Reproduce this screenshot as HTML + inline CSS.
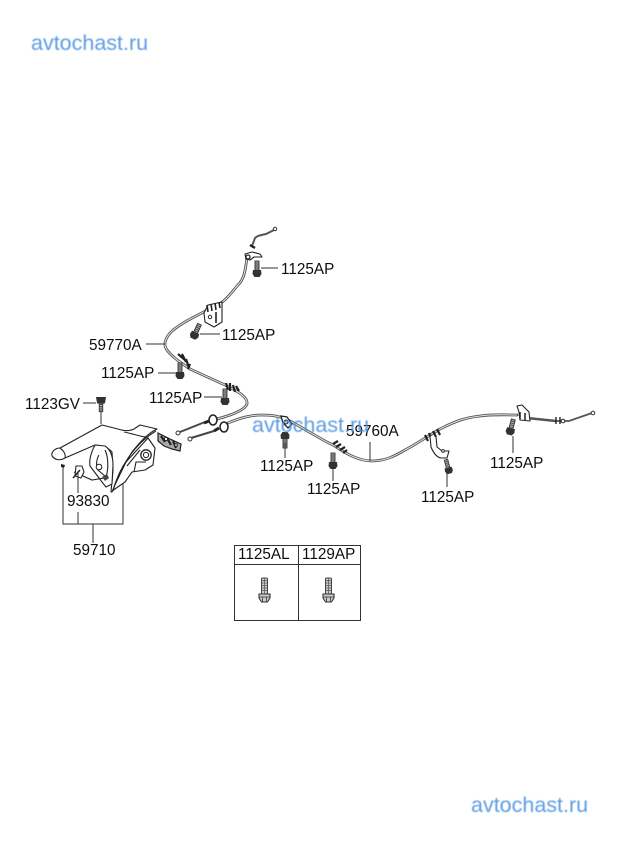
<!DOCTYPE html>
<html>
<head>
<meta charset="utf-8">
<style>
html,body{margin:0;padding:0;background:#fff;width:620px;height:848px;overflow:hidden}
svg{display:block;position:absolute;left:0;top:0}
text{font-family:"Liberation Sans",sans-serif}
.l{font-size:15.3px;fill:#111}
.w{font-size:21.5px;fill:#4f94e0;opacity:.92}
.ld{stroke:#333;stroke-width:1;fill:none}
.o{stroke:#222;stroke-width:1.1;fill:#fff;stroke-linejoin:round}
.o2{stroke:#222;stroke-width:1.1;fill:none}
.cb{fill:none;stroke:#555;stroke-width:2.8;stroke-linecap:round;stroke-linejoin:round}
.ci{fill:none;stroke:#e4e4e4;stroke-width:1}
</style>
</head>
<body>
<svg width="620" height="848" viewBox="0 0 620 848" xmlns="http://www.w3.org/2000/svg">
<defs>
<filter id="b" x="-5%" y="-20%" width="110%" height="140%"><feGaussianBlur stdDeviation=".45"/></filter>
<filter id="s" x="-2%" y="-2%" width="104%" height="104%"><feGaussianBlur stdDeviation=".3"/></filter>
<g id="bolt">
<rect x="-2" y="-13" width="4" height="10" fill="#aaa" stroke="#333" stroke-width=".9"/>
<path d="M-2,-11H2M-2,-9H2M-2,-7H2M-2,-5H2" stroke="#333" stroke-width=".7"/>
<path d="M-4,-4H4L4.5,0L2.5,3H-2.5L-4.5,0Z" fill="#333"/>
</g>
<g id="boltB">
<rect x="-3" y="-19" width="6" height="16" rx="1" fill="#ccc" stroke="#444" stroke-width="1"/>
<path d="M-3,-16.5H3M-3,-14H3M-3,-11.5H3M-3,-9H3M-3,-6.5H3M0,-19V-3" stroke="#555" stroke-width=".7"/>
<path d="M-5.5,-3H5.5V1L3,5H-3L-5.5,1Z" fill="#ccc" stroke="#333" stroke-width="1.1"/>
<path d="M-5.5,0H5.5M-2,0V5M2,0V5" stroke="#333" stroke-width=".8"/>
</g>
</defs>

<g filter="url(#s)">
<!-- Cable 59770A -->
<path class="cb" d="M247,257C245,275 243,280 238,285C232,292 228,298 221,303C205,312 185,320 172,331C165,338 163,345 167,350C172,357 180,362 190,369L225,385C240,392 248,398 247,404C245,410 232,415 217,419"/>
<path class="ci" d="M247,257C245,275 243,280 238,285C232,292 228,298 221,303C205,312 185,320 172,331C165,338 163,345 167,350C172,357 180,362 190,369L225,385C240,392 248,398 247,404C245,410 232,415 217,419"/>
<!-- Cable 59760A -->
<path class="cb" d="M228,423C240,418 250,415 262,415C272,415 280,416 290,421C305,429 320,439 333,445C345,453 358,461 372,461C385,461 395,456 405,450C418,443 428,436 440,429C452,423 462,418 480,416C495,414 505,415 517,415"/>
<path class="ci" d="M228,423C240,418 250,415 262,415C272,415 280,416 290,421C305,429 320,439 333,445C345,453 358,461 372,461C385,461 395,456 405,450C418,443 428,436 440,429C452,423 462,418 480,416C495,414 505,415 517,415"/>
<path class="cb" style="stroke-width:2.4" d="M527,418L556,421"/>
<path d="M557,421H569L592,413" fill="none" stroke="#555" stroke-width="1.8"/>
<circle cx="593" cy="413" r="1.8" fill="#fff" stroke="#333"/>
<path d="M556,417v7M560,417v7" stroke="#222" stroke-width="1.4"/>
<circle cx="563" cy="421" r="1.8" fill="#fff" stroke="#222"/>
<!-- top end of 59770A -->
<path d="M252,246L255,238C258,235 262,235 266,234L274,230" fill="none" stroke="#555" stroke-width="2"/>
<circle cx="275" cy="229" r="1.7" fill="#fff" stroke="#333"/>
<path class="o" d="M245,254L252,252L260,254L262,257L254,257L250,260L246,259Z"/>
<circle cx="248" cy="257" r="2" fill="#fff" stroke="#222" stroke-width="1.3"/>
<path d="M250,245l5,3" stroke="#222" stroke-width="2.4"/>
<!-- bracket upper -->
<path class="o" d="M204,313L208,305L222,302L222,322L214,327L205,322Z"/>
<path d="M207,305l1,7M211,304l1,7M215,303l1,7M219,302l1,6M216,312v11" stroke="#222" stroke-width="1.6" fill="none"/>
<circle cx="210" cy="317" r="1.7" fill="#fff" stroke="#333"/>
<!-- clamps on cable -->
<path d="M178,354l7,6M182,354l4,8M186,359l3,9M190,364l-2,5" stroke="#222" stroke-width="2.2"/>
<path d="M226,383l2,7M230,383l0,8M233,385l2,7M236,386l3,5" stroke="#222" stroke-width="2.2"/>
<!-- connectors and rods -->
<path d="M205,422L180,432M214,431L191,438" stroke="#444" stroke-width="2"/>
<circle cx="178" cy="433" r="2" fill="#fff" stroke="#333"/>
<circle cx="190" cy="439" r="2" fill="#fff" stroke="#333"/>
<ellipse cx="213" cy="420" rx="4" ry="5" fill="#fff" stroke="#222" stroke-width="1.6"/>
<ellipse cx="224" cy="427" rx="4" ry="5" fill="#fff" stroke="#222" stroke-width="1.6"/>
<path d="M209,421l-5,2M219,428l-5,3" stroke="#222" stroke-width="3"/>
<!-- clamp center -->
<path d="M281,416l6,1 5,7-4,4-5-5Z" fill="#fff" stroke="#222" stroke-width="1.3"/>
<circle cx="286" cy="422" r="2" fill="#ccc" stroke="#222"/>
<path d="M333,444l5,-3M336,447l5,-3M340,450l5,-3M343,453l4,-3" stroke="#222" stroke-width="2.2"/>
<!-- right clamps -->
<path d="M425,435l3,6M429,433l3,7M433,431l3,6M437,429l3,6" stroke="#222" stroke-width="2.2"/>
<path class="o" d="M430,436L431,447C433,452 436,457 441,458H447L449,451H442L437,447L436,437"/>
<circle cx="443" cy="451" r="1.4" fill="#fff" stroke="#333"/>
<path class="o" d="M517,406L522,405L529,412L530,421L520,420L519,412Z"/>
<path d="M520,412v7M525,413v7" stroke="#222" stroke-width="1.5"/>

<!-- Lever -->
<path class="o" d="M112,491L125,482L132,472L145,470L153,465L155,448L148,438L126,462Z"/>
<circle cx="146" cy="455" r="5.2" fill="#fff" stroke="#222" stroke-width="1.3"/>
<circle cx="146" cy="455" r="2.6" fill="#fff" stroke="#222"/>
<path class="o2" d="M127,466L140,450M134,472L136,462L146,462"/>
<path class="o" d="M60,448L102,425L118,429C124,431 130,431 134,429L140,425L157,429C148,433 140,442 132,452L120,472L112,492L111,492L113,470L112,452C108,447 100,445 95,445L65,458C60,461 55,460 52,456C51,452 55,448 60,448Z"/>
<path class="o2" d="M60,448C64,451 66,454 65,458M113,491C118,470 134,444 156,431M124,432C130,433 142,437 146,437"/>
<path class="o" d="M95,445C91,452 89,460 90,466L102,482L106,487L112,484L113,465C113,456 110,449 105,446Z"/>
<path class="o2" d="M99,455C96,460 96,466 98,470L106,477M105,450C108,456 109,468 106,477"/>
<circle cx="99" cy="467" r="2.8" fill="#fff" stroke="#222"/>
<path class="o2" d="M74,472L92,480L104,478"/>
<path d="M102,477l5,-3 2,4-4,3Z" fill="#444"/>
<path class="o" d="M76,466L82,466L84,472L81,478L75,476Z"/>
<path d="M73,478L80,470" stroke="#222" stroke-width="1.5"/>
<path d="M61,464l4,1-1,3-3-1Z" fill="#222"/>
<!-- ratchet -->
<path d="M158,433L170,439L181,444L180,451L172,449L164,446L158,441Z" fill="#aaa" stroke="#222" stroke-width="1.2"/>
<path d="M161,436l4,6M167,438l4,7M173,441l3,7" stroke="#222" stroke-width="2.2"/>
<circle cx="166" cy="439" r="1.6" fill="#fff" stroke="#222"/>
<circle cx="176" cy="445" r="1.4" fill="#fff" stroke="#222"/>

<!-- bolts -->
<use href="#bolt" transform="translate(257,274)"/>
<use href="#bolt" transform="translate(194,336) rotate(25)"/>
<use href="#bolt" transform="translate(180,376)"/>
<use href="#bolt" transform="translate(225,402)"/>
<use href="#bolt" transform="translate(101,400) rotate(180) scale(.9)"/>
<path d="M96,397H106L105,403H97Z" fill="#333"/>
<use href="#bolt" transform="translate(285,435) rotate(180)"/>
<use href="#bolt" transform="translate(333,466)"/>
<use href="#bolt" transform="translate(510,432) rotate(15)"/>
<use href="#bolt" transform="translate(449,471) rotate(-15) scale(.9)"/>

<!-- leaders -->
<path class="ld" d="M261,268H278M200,334H220M158,373H177M204,397H222M146,344H165M83,403H96M101,411V424M285,443V458M333,467V481M513,436V453M447,472V487M370,442V461M78,471V493M63,468V524H123V483M78,512V524M93,524V543"/>

<!-- labels -->
<text class="l" x="281" y="274">1125AP</text>
<text class="l" x="222" y="340">1125AP</text>
<text class="l" x="89" y="350">59770A</text>
<text class="l" x="101" y="378">1125AP</text>
<text class="l" x="149" y="403">1125AP</text>
<text class="l" x="25" y="409">1123GV</text>
<text class="l" x="67" y="506">93830</text>
<text class="l" x="73" y="555">59710</text>
<text class="l" x="260" y="471">1125AP</text>
<text class="l" x="307" y="494">1125AP</text>
<text class="l" x="346" y="436">59760A</text>
<text class="l" x="490" y="468">1125AP</text>
<text class="l" x="421" y="502">1125AP</text>

<!-- table -->
<rect x="234.5" y="545.5" width="126" height="75" fill="none" stroke="#333" stroke-width="1"/>
<path d="M234,564.5H361M298.5,545V620" stroke="#333" stroke-width="1" fill="none"/>
<text class="l" x="238" y="559">1125AL</text>
<text class="l" x="302" y="559">1129AP</text>
<use href="#boltB" transform="translate(264.5,597)"/>
<use href="#boltB" transform="translate(328.5,597)"/>
</g>

<!-- watermarks -->
<g filter="url(#b)">
<text class="w" x="31" y="50">avtochast.ru</text>
<text class="w" x="252" y="432">avtochast.ru</text>
<text class="w" x="471" y="812">avtochast.ru</text>
</g>
</svg>
</body>
</html>
